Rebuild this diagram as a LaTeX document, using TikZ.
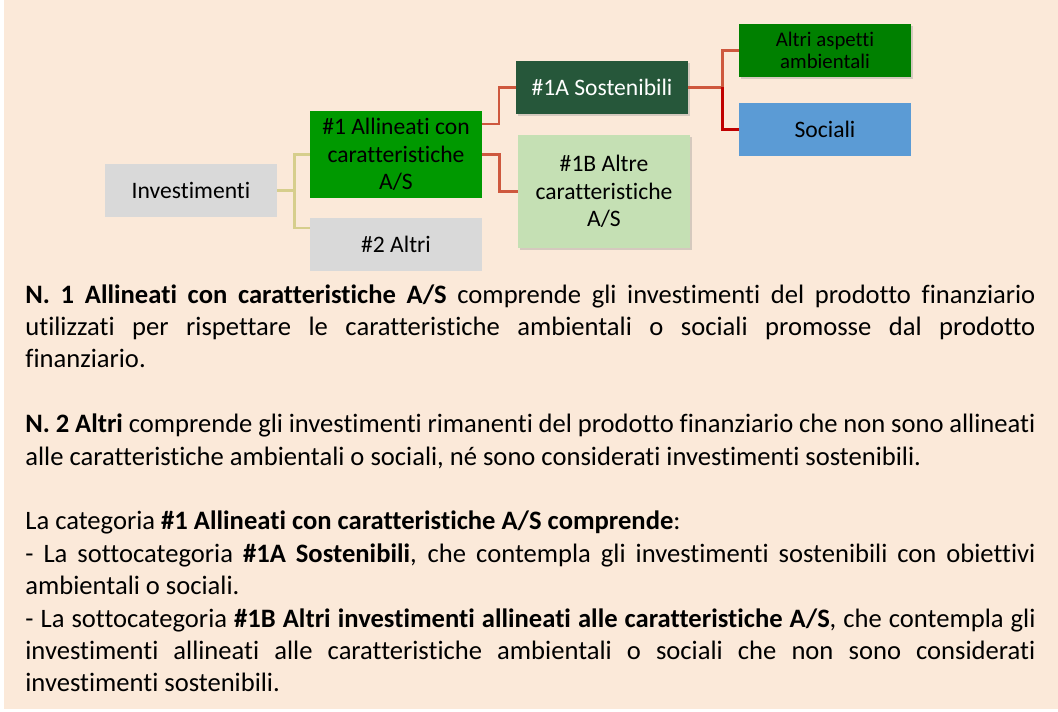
\documentclass[tikz,border=0pt]{standalone}
\usepackage{fontspec}
\setmainfont{Carlito}[Ligatures=NoCommon]
\usetikzlibrary{shadows}
\definecolor{peach}{RGB}{251,233,217}
\definecolor{boxgrey}{RGB}{217,217,217}
\definecolor{midgreen}{RGB}{0,153,0}
\definecolor{darkgreen}{RGB}{38,87,58}
\definecolor{palegreen}{RGB}{197,224,180}
\definecolor{envgreen}{RGB}{0,128,0}
\definecolor{socblue}{RGB}{91,155,213}
\definecolor{tanline}{RGB}{214,206,140}
\definecolor{rustline}{RGB}{206,88,62}
\definecolor{redline}{RGB}{192,0,0}
\begin{document}
\begin{tikzpicture}[x=0.5pt,y=-0.5pt,
  box/.style={inner sep=0pt,minimum width=86pt,minimum height=26.5pt,align=center,
    font=\fontsize{11.8}{13.75}\selectfont},
  shade/.style={drop shadow={opacity=0.3,shadow xshift=1.2pt,shadow yshift=-1.2pt}},
  link/.style={line width=1.2pt}]
\useasboundingbox (0,0) rectangle (1058,711);
\fill[peach] (4,0) rectangle (1058,709);
\node[box,fill=boxgrey] (inv) at (191,190.5) {Investimenti};
\node[box,fill=midgreen,minimum height=43.5pt] (al) at (396,154.5) {\#1 Allineati con\\caratteristiche\\A/S};
\node[box,fill=boxgrey] (altri) at (396,244.5) {\#2 Altri};
\node[box,shade,fill=darkgreen,text=white] (sost) at (602,87.5) {\#1A Sostenibili};
\node[box,shade,fill=palegreen,minimum height=56.5pt] (altre) at (604,191.5) {\#1B Altre\\caratteristiche\\A/S};
\node[box,shade,fill=envgreen,font=\fontsize{10.4}{11}\selectfont] (amb) at (825,50.5) {Altri aspetti\\ambientali};
\node[box,fill=socblue] (soc) at (825,129.5) {Sociali};
\coordinate (altriin) at (310,228);
\coordinate (alout) at (482,124);
\draw[link,tanline] (inv.east) -- ++(17,0) |- (al.west);
\draw[link,tanline] (inv.east) -- ++(17,0) |- (altriin);
\draw[link,rustline] (alout) -- ++(17,0) |- (sost.west);
\draw[link,rustline] (al.east) -- ++(17,0) |- (altre.west);
\draw[link,rustline] (sost.east) -- ++(34,0) |- (amb.west);
\draw[link,redline] (sost.east) ++(34,0) |- (soc.west);
\node[anchor=base west,inner sep=0pt,text width=505pt,align=justify,
  font=\fontsize{13.3}{16.2}\selectfont] (txt) at (25,303) {%
\textbf{N. 1 Allineati con caratteristiche A/S} comprende gli investimenti del prodotto finanziario\linebreak
utilizzati per rispettare le caratteristiche ambientali o sociali promosse dal prodotto\linebreak
finanziario.\par\vspace{16.2pt}
\textbf{N. 2 Altri} comprende gli investimenti rimanenti del prodotto finanziario che non sono allineati\linebreak
alle caratteristiche ambientali o sociali, né sono considerati investimenti sostenibili.\par\vspace{16.2pt}
La categoria \textbf{\#1 Allineati con caratteristiche A/S comprende}:\par
- La sottocategoria \textbf{\#1A Sostenibili}, che contempla gli investimenti sostenibili con obiettivi\linebreak
ambientali o sociali.\par
- La sottocategoria \textbf{\#1B Altri investimenti allineati alle caratteristiche A/S}, che contempla gli\linebreak
investimenti allineati alle caratteristiche ambientali o sociali che non sono considerati\linebreak
investimenti sostenibili.};
\end{tikzpicture}
\end{document}
